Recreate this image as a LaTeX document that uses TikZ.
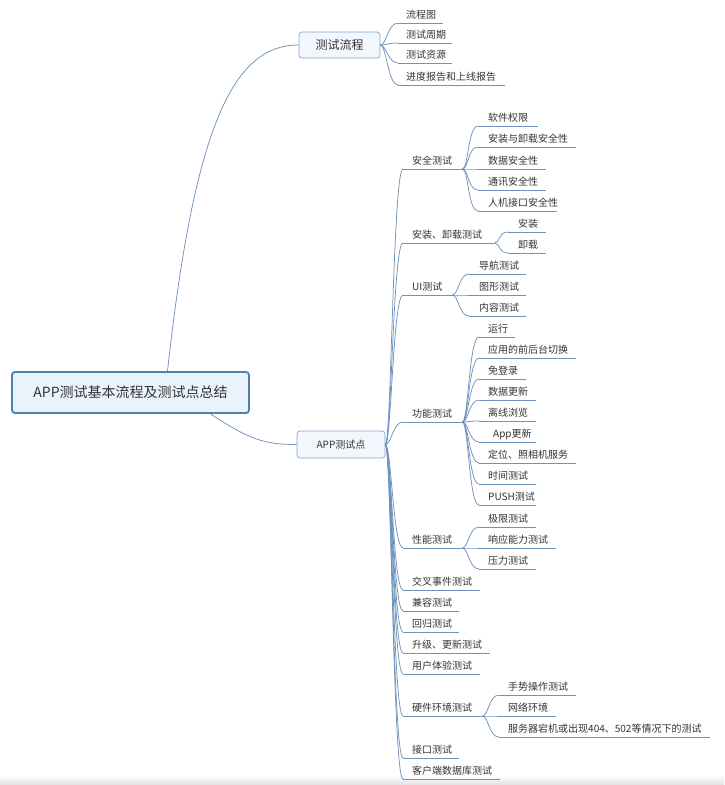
\documentclass[tikz,border=0pt]{standalone}
\usepackage{fontspec}
\newfontfamily\cjk{Noto Sans CJK SC}
\definecolor{br}{HTML}{6F93BC}
\definecolor{txt}{HTML}{333333}
\definecolor{rootfill}{HTML}{EAF3FC}
\definecolor{rootdraw}{HTML}{4F7FAE}
\definecolor{subfill}{HTML}{F1F7FD}
\definecolor{subdraw}{HTML}{86A6CB}
\tikzset{
  bline/.style={draw=br, line width=0.75pt},
  rootbox/.style={draw=rootdraw, line width=1.8pt, fill=rootfill, rounded corners=3pt,
    minimum width=237pt, minimum height=41pt, text=txt, font=\cjk\fontsize{14}{16}\selectfont},
  subbox/.style={draw=subdraw, line width=0.7pt, fill=subfill, rounded corners=3pt,
    minimum height=26pt, text=txt, inner xsep=0pt},
  it/.style={anchor=south west, inner xsep=0pt, inner ysep=0pt, text height=9pt, text depth=4.5pt,
    align=left, text=txt, font=\cjk\fontsize{10}{12}\selectfont, text width=#1},
}
\newcommand\lk[2]{\draw[bline] (#1) .. controls +(6,0) and +(-10,0) .. (#2.south west);
  \draw[bline] (#2.south west) -- (#2.south east);}
\begin{document}
\begin{tikzpicture}[x=1pt,y=-1pt]
\useasboundingbox (0,0) rectangle (724,785);
\shade[top color=white, bottom color=black!12] (0,775) rectangle (724,785);

% main boxes
\node[rootbox] (root) at (130.5,392.5) {APP测试基本流程及测试点总结};
\node[subbox, minimum width=81pt, font=\cjk\fontsize{12}{14}\selectfont] (flow) at (339.5,45) {测试流程};
\node[subbox, minimum width=88pt, minimum height=27pt, font=\cjk\fontsize{10}{12}\selectfont] (app) at (341,444.5) {APP测试点};

\draw[bline] ([xshift=37pt]root.north) .. controls (195,120) and (235,45) .. (flow.west);
\draw[bline] ([xshift=80pt]root.south) .. controls (250,440) and (265,444.5) .. (app.west);

% 测试流程 children
\node[it=45pt] (f1) at (398,23) {\hspace*{8pt}流程图};
\node[it=54pt] (f2) at (398,43) {\hspace*{8pt}测试周期};
\node[it=54pt] (f3) at (398,63) {\hspace*{8pt}测试资源};
\node[it=107pt] (f4) at (398,85) {\hspace*{8pt}进度报告和上线报告};
\foreach \n in {f1,f2,f3,f4}{\lk{flow.east}{\n}}

% APP测试点 children
\node[it=59pt] (a1) at (403,169) {\hspace*{9pt}安全测试};
\node[it=91pt] (a2) at (403,243) {\hspace*{9pt}安装、卸载测试};
\node[it=49pt] (a3) at (403,295) {\hspace*{9pt}UI测试};
\node[it=59pt] (a4) at (403,422) {\hspace*{9pt}功能测试};
\node[it=59pt] (a5) at (403,548) {\hspace*{9pt}性能测试};
\node[it=77pt] (a6) at (403,590) {\hspace*{9pt}交叉事件测试};
\node[it=56pt] (a7) at (403,611) {\hspace*{9pt}兼容测试};
\node[it=56pt] (a8) at (403,632) {\hspace*{9pt}回归测试};
\node[it=87pt] (a9) at (403,653) {\hspace*{9pt}升级、更新测试};
\node[it=77pt] (a10) at (403,674) {\hspace*{9pt}用户体验测试};
\node[it=79pt] (a11) at (403,716) {\hspace*{9pt}硬件环境测试};
\node[it=56pt] (a12) at (403,758) {\hspace*{9pt}接口测试};
\node[it=97pt] (a13) at (403,779) {\hspace*{9pt}客户端数据库测试};
\foreach \n in {a1,a2,a3,a4,a5,a6,a7,a8,a9,a10,a11,a12,a13}{\lk{app.east}{\n}}

% 安全测试
\node[it=60pt] (s1) at (478,126) {\hspace*{10pt}软件权限};
\node[it=98pt] (s2) at (478,147) {\hspace*{10pt}安装与卸载安全性};
\node[it=68pt] (s3) at (478,169) {\hspace*{10pt}数据安全性};
\node[it=68pt] (s4) at (478,190) {\hspace*{10pt}通讯安全性};
\node[it=79pt] (s5) at (478,211) {\hspace*{10pt}人机接口安全性};
\foreach \n in {s1,s2,s3,s4,s5}{\lk{a1.south east}{\n}}

% 安装、卸载测试
\node[it=38pt] (i1) at (508,232) {\hspace*{10pt}安装};
\node[it=38pt] (i2) at (508,253) {\hspace*{10pt}卸载};
\foreach \n in {i1,i2}{\lk{a2.south east}{\n}}

% UI测试
\node[it=57pt] (u1) at (469,274) {\hspace*{10pt}导航测试};
\node[it=57pt] (u2) at (469,295) {\hspace*{10pt}图形测试};
\node[it=57pt] (u3) at (469,316) {\hspace*{10pt}内容测试};
\foreach \n in {u1,u2,u3}{\lk{a3.south east}{\n}}

% 功能测试
\node[it=36pt] (g1) at (479,337) {\hspace*{9pt}运行};
\node[it=97pt] (g2) at (479,358) {\hspace*{9pt}应用的前后台切换};
\node[it=47pt] (g3) at (479,379) {\hspace*{9pt}免登录};
\node[it=57pt] (g4) at (479,400) {\hspace*{9pt}数据更新};
\node[it=57pt] (g5) at (479,421) {\hspace*{9pt}离线浏览};
\node[it=57pt] (g6) at (479,442) {\hspace*{14pt}App更新};
\node[it=97pt] (g7) at (479,463) {\hspace*{9pt}定位、照相机服务};
\node[it=57pt] (g8) at (479,484) {\hspace*{9pt}时间测试};
\node[it=57pt] (g9) at (479,505) {\hspace*{9pt}PUSH测试};
\foreach \n in {g1,g2,g3,g4,g5,g6,g7,g8,g9}{\lk{a4.south east}{\n}}

% 性能测试
\node[it=57pt] (p1) at (479,527) {\hspace*{9pt}极限测试};
\node[it=77pt] (p2) at (479,548) {\hspace*{9pt}响应能力测试};
\node[it=57pt] (p3) at (479,569) {\hspace*{9pt}压力测试};
\foreach \n in {p1,p2,p3}{\lk{a5.south east}{\n}}

% 硬件环境测试
\node[it=77pt] (h1) at (499,695) {\hspace*{9pt}手势操作测试};
\node[it=57pt] (h2) at (499,716) {\hspace*{9pt}网络环境};
\node[it=211pt] (h3) at (499,737) {\hspace*{9pt}服务器宕机或出现404、502等情况下的测试};
\foreach \n in {h1,h2,h3}{\lk{a11.south east}{\n}}
\end{tikzpicture}
\end{document}
